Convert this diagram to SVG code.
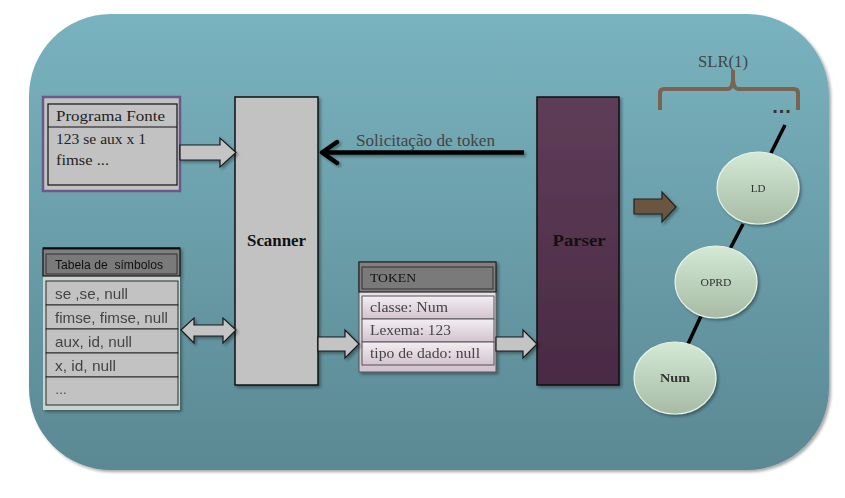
<svg xmlns="http://www.w3.org/2000/svg" width="845" height="498" viewBox="0 0 845 498">
<defs>
<linearGradient id="bg" x1="0" y1="0" x2="0" y2="1"><stop offset="0" stop-color="#79b3bf"/><stop offset="1" stop-color="#5a8893"/></linearGradient>
<linearGradient id="parserG" x1="0" y1="0" x2="0" y2="1"><stop offset="0" stop-color="#5e3d58"/><stop offset="1" stop-color="#4a2a44"/></linearGradient>
<linearGradient id="rowG" x1="0" y1="0" x2="0" y2="1"><stop offset="0" stop-color="#f2eef2"/><stop offset="1" stop-color="#d3c3cf"/></linearGradient>
<linearGradient id="ellG" x1="0" y1="0" x2="0" y2="1"><stop offset="0" stop-color="#d4ead6"/><stop offset="1" stop-color="#a7bba4"/></linearGradient>
<filter id="sh" x="-10%" y="-10%" width="130%" height="130%"><feDropShadow dx="2" dy="2" stdDeviation="1.5" flood-color="#000" flood-opacity="0.35"/></filter>
</defs>
<style>
.serif{font-family:"Liberation Serif","DejaVu Serif",serif}
.sans{font-family:"Liberation Sans","DejaVu Sans",sans-serif}
.blk{fill:#c2c2c2;stroke:#111;stroke-width:1.5}
.barr{fill:#c4c4c4;stroke:#1a1a1a;stroke-width:1.2}
.row{fill:#c2c2c2;stroke:#2a2a2a;stroke-width:1}
.trow{fill:url(#rowG);stroke:#555;stroke-width:1}
.ell{fill:url(#ellG);stroke:#e8f4e8;stroke-width:1.2}
.edge{stroke:#000;stroke-width:3.5;fill:none}
</style>
<rect width="845" height="498" fill="#fff"/>
<rect x="29" y="14" width="800" height="456" rx="82" ry="82" fill="url(#bg)" filter="url(#sh)"/>

<g id="programa-fonte">
<rect x="43" y="97" width="137" height="94" fill="#c2c2c2" stroke="#6a5a8a" stroke-width="2.5"/>
<rect x="48" y="104" width="129" height="81" fill="#c2c2c2" stroke="#111" stroke-width="1.2"/>
<line x1="48" y1="127" x2="177" y2="127" stroke="#111" stroke-width="1.2"/>
<text x="56" y="121" class="serif" font-size="15" fill="#222" textLength="109" lengthAdjust="spacingAndGlyphs">Programa Fonte</text>
<text x="56" y="144" class="serif" font-size="15" fill="#222" textLength="90" lengthAdjust="spacingAndGlyphs">123 se aux x 1</text>
<text x="56" y="165" class="serif" font-size="15" fill="#222" textLength="53" lengthAdjust="spacingAndGlyphs">fimse ...</text>
</g>

<g id="tabela-simbolos" filter="url(#sh)">
<rect x="43" y="248" width="137" height="162" fill="#c8d4cc"/>
<rect x="43" y="248" width="137" height="28" fill="#808080" stroke="#111" stroke-width="1.2"/>
<line x1="43" y1="248.5" x2="180" y2="248.5" stroke="#111" stroke-width="2"/>
<rect x="46" y="254" width="131" height="20" fill="#7a7a7a" stroke="#333" stroke-width="1"/>
<text x="55" y="269" class="sans" font-size="12.5" fill="#111" xml:space="preserve" style="white-space:pre" textLength="108" lengthAdjust="spacingAndGlyphs">Tabela de  símbolos</text>
<rect x="46" y="281" width="132" height="24" class="row"/>
<rect x="46" y="305" width="132" height="24" class="row"/>
<rect x="46" y="329" width="132" height="24" class="row"/>
<rect x="46" y="353" width="132" height="24" class="row"/>
<rect x="46" y="377" width="132" height="28" class="row"/>
<text x="55" y="299" class="sans" font-size="15" fill="#444" textLength="73" lengthAdjust="spacingAndGlyphs">se ,se, null</text>
<text x="55" y="323" class="sans" font-size="15" fill="#444" textLength="113" lengthAdjust="spacingAndGlyphs">fimse, fimse, null</text>
<text x="55" y="347" class="sans" font-size="15" fill="#444" textLength="77" lengthAdjust="spacingAndGlyphs">aux, id, null</text>
<text x="55" y="371" class="sans" font-size="15" fill="#444" textLength="61" lengthAdjust="spacingAndGlyphs">x, id, null</text>
<text x="55" y="394" class="sans" font-size="12" fill="#444">…</text>
</g>

<g id="scanner">
<rect x="235" y="97" width="83" height="288" class="blk" filter="url(#sh)"/>
<text x="276.5" y="246" class="serif" font-size="16" font-weight="bold" fill="#111" text-anchor="middle" textLength="59" lengthAdjust="spacingAndGlyphs">Scanner</text>
</g>

<g id="parser">
<rect x="537" y="97" width="82" height="288" fill="url(#parserG)" stroke="#111" stroke-width="1.5" filter="url(#sh)"/>
<text x="579" y="246" class="serif" font-size="17" font-weight="bold" fill="#111" text-anchor="middle" textLength="53" lengthAdjust="spacingAndGlyphs">Parser</text>
</g>

<g id="token" filter="url(#sh)">
<rect x="359" y="262" width="137" height="110" fill="url(#rowG)" stroke="#555" stroke-width="1"/>
<rect x="359" y="262" width="137" height="30" fill="#808080" stroke="#222" stroke-width="1.2"/>
<rect x="362" y="267" width="131" height="22" fill="#7a7a7a" stroke="#333" stroke-width="1"/>
<text x="370" y="282" class="serif" font-size="13" fill="#111" textLength="46" lengthAdjust="spacingAndGlyphs">TOKEN</text>
<rect x="362" y="296" width="132" height="23" class="trow"/>
<rect x="362" y="319" width="132" height="23" class="trow"/>
<rect x="362" y="342" width="132" height="23" class="trow"/>
<text x="370" y="312" class="serif" font-size="15" fill="#444" textLength="78" lengthAdjust="spacingAndGlyphs">classe: Num</text>
<text x="370" y="335" class="serif" font-size="15" fill="#444" textLength="81" lengthAdjust="spacingAndGlyphs">Lexema: 123</text>
<text x="370" y="358" class="serif" font-size="15" fill="#444" textLength="110" lengthAdjust="spacingAndGlyphs">tipo de dado: null</text>
</g>

<g id="slr">
<text x="723" y="67" class="serif" font-size="16" fill="#444" text-anchor="middle" textLength="50" lengthAdjust="spacingAndGlyphs">SLR(1)</text>
<path d="M660,110 V93 Q660,89 664,89 H728 Q732,89 733,80 V70 M733,70 V80 Q734,89 738,89 H794 Q798,89 798,93 V110" fill="none" stroke="#7a6450" stroke-width="4"/>
<text x="782" y="113" class="sans" font-size="20" font-weight="bold" fill="#333" text-anchor="middle" letter-spacing="1">...</text>
</g>

<g id="connectors">
<polygon points="180,145 220,145 220,138 236,152.5 220,167 220,160 180,160" class="barr" filter="url(#sh)"/>
<polygon points="181,330 194,318 194,325 223,325 223,318 236,330 223,343 223,336 194,336 194,343" class="barr" filter="url(#sh)"/>
<polygon points="318,337 345,337 345,330 359,344 345,358 345,351 318,351" class="barr" filter="url(#sh)"/>
<polygon points="496,337 523,337 523,330 537,344 523,358 523,351 496,351" class="barr" filter="url(#sh)"/>
<polygon points="634,199 662,199 662,192 676,207 662,222 662,214 634,214" fill="#6b5540" stroke="#222" stroke-width="1.2" filter="url(#sh)"/>
<g filter="url(#sh)">
<line x1="524" y1="152.5" x2="322" y2="152.5" stroke="#000" stroke-width="4.5"/>
<polyline points="337,142 322,152.5 337,163" fill="none" stroke="#000" stroke-width="4.5" stroke-linecap="round" stroke-linejoin="round"/>
</g>
<text x="356" y="146" class="serif" font-size="16" fill="#444" textLength="139" lengthAdjust="spacingAndGlyphs">Solicitação de token</text>
<line x1="785" y1="125" x2="771" y2="153" class="edge"/>
<line x1="743" y1="224" x2="730" y2="249" class="edge"/>
<line x1="701" y1="316" x2="688" y2="344" class="edge"/>
</g>

<g id="ld" filter="url(#sh)">
<ellipse cx="758" cy="188" rx="41" ry="36" class="ell"/>
<text x="758" y="192" class="serif" font-size="11" fill="#333" text-anchor="middle">LD</text>
</g>
<g id="oprd" filter="url(#sh)">
<ellipse cx="716" cy="282" rx="41" ry="36" class="ell"/>
<text x="716" y="286" class="serif" font-size="11" fill="#333" text-anchor="middle" textLength="31" lengthAdjust="spacingAndGlyphs">OPRD</text>
</g>
<g id="num" filter="url(#sh)">
<ellipse cx="675" cy="378" rx="41" ry="36" class="ell"/>
<text x="675" y="382" class="serif" font-size="13" font-weight="bold" fill="#333" text-anchor="middle" textLength="30" lengthAdjust="spacingAndGlyphs">Num</text>
</g>
</svg>
